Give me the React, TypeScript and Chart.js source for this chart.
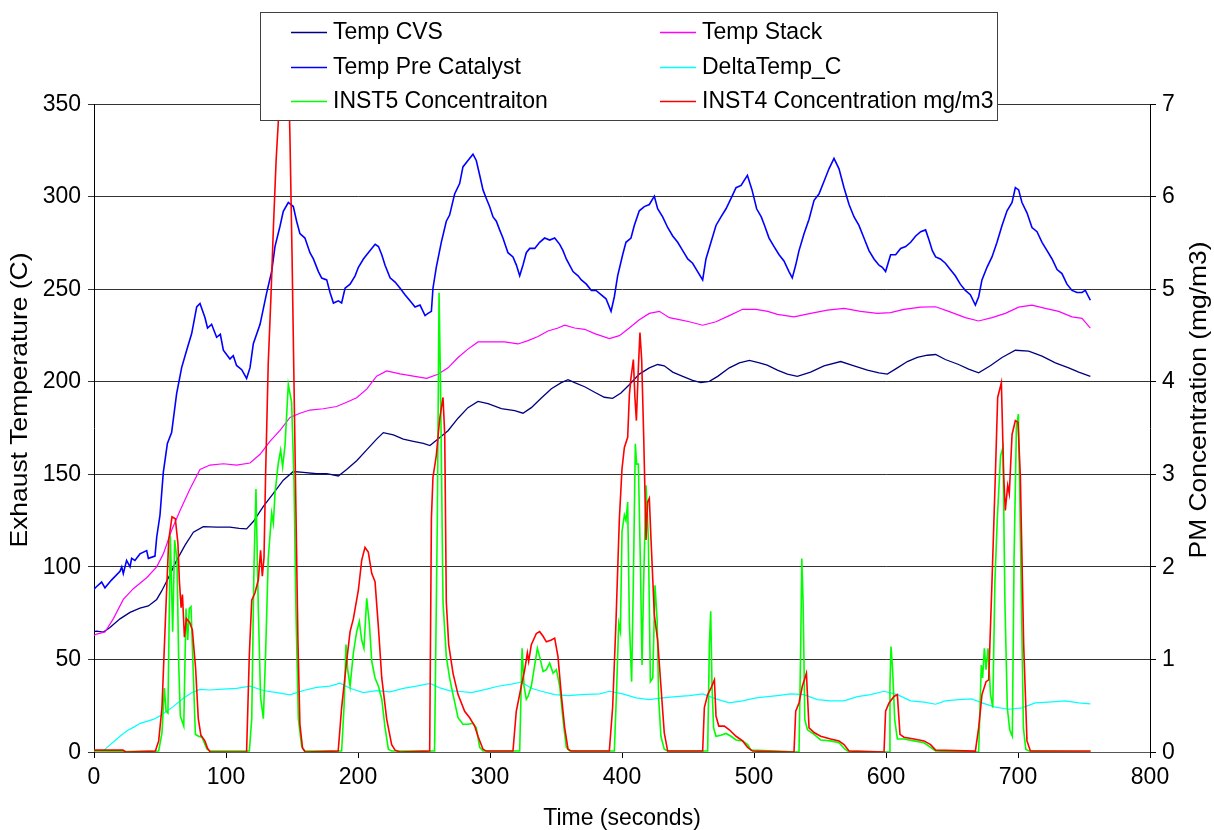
import React, { useEffect, useRef } from 'react';
import { Chart, registerables } from 'chart.js';

Chart.register(...registerables);

// ---- Axis ranges and titles ----
const xTitle = 'Time (seconds)';
const leftTitle = 'Exhaust Temperature (C)';
const rightTitle = 'PM Concentration (mg/m3)';
const xRange = [0, 800];
const xStep = 100;
const tempRange = [0, 350];
const tempStep = 50;
const pmRange = [0, 7];
const pmStep = 1;

// ---- Temp CVS (C) ----
const cvsT = [0, 2, 7.1, 12.1, 19.7, 27.3, 34.8, 41.2, 47.5, 51.3, 56.3, 62.6, 69, 75.3, 82.8, 92.9, 103, 110, 115.6, 120.7, 128.3, 135.9, 143.4, 151, 158.6, 168.7, 176.3, 185.1, 191.4, 199, 206.6, 214.1, 219.2, 226.8, 234.3, 241.9, 249.5, 254.5, 260.6, 268.2, 275.8, 283.3, 290.9, 298.5, 308.6, 318.7, 325, 331.3, 338.9, 346.5, 354, 359.1, 364.1, 371.7, 379.3, 386.6, 392.9, 399.2, 405.5, 413.1, 420.7, 427, 432, 438.4, 446, 453.5, 459.8, 466.2, 472.5, 481.3, 488.9, 496.5, 504.1, 510, 517.7, 525.3, 532.8, 542.9, 553, 565.7, 575.8, 585.9, 594.7, 601, 608.6, 616.2, 623.7, 631.3, 637.6, 644.9, 655, 662.6, 670.2, 679, 687.9, 698, 708.1, 718.2, 728.3, 738.4, 746, 754.8];
const cvsV = [65, 65.3, 64.8, 67.2, 71.9, 75.4, 77.7, 78.9, 82.4, 87, 94, 103.5, 111.7, 118.7, 121.7, 121.5, 121.5, 120.8, 120.5, 124.5, 132.7, 139.7, 146.8, 151.5, 151, 150.3, 150.3, 149.1, 152.6, 157.3, 163.2, 169, 172.5, 171.3, 169, 167.8, 166.7, 165.5, 169, 173.5, 180.3, 186, 189.4, 188.2, 185.5, 184.4, 183, 186, 191.2, 196.2, 199.5, 201.1, 199.5, 197.3, 194.3, 191.6, 191, 193.9, 198.4, 204.1, 207.5, 209.3, 208.6, 205.2, 202.9, 200.7, 199.5, 200.2, 202.9, 207.5, 210.2, 211.5, 210.2, 209, 206.3, 204.1, 202.9, 205.2, 208.6, 210.9, 208.6, 206.3, 204.8, 204.1, 207.5, 210.9, 213.1, 214.3, 214.7, 212, 209.3, 206.8, 204.8, 208.6, 213.1, 217, 216.5, 213.8, 210.2, 207.5, 205.2, 202.9];

// ---- Temp Stack (C) ----
const stackT = [0, 2, 8.3, 14.6, 22.2, 29.8, 39.9, 47.5, 52.5, 58.8, 65.2, 72.7, 80.3, 87.9, 98, 108, 118.2, 125.8, 133.3, 140.9, 148.5, 156, 163.6, 173.7, 183.8, 191.4, 199, 206.6, 214.1, 221.7, 231.8, 241.9, 252, 260.6, 268.2, 275.8, 283.3, 290.9, 301, 311.1, 321.2, 328.8, 336.4, 343.9, 351.5, 356.6, 364.1, 371.7, 379.3, 390.4, 398, 405.5, 413.1, 420.7, 428.3, 435.9, 443.4, 451, 461.1, 471.2, 481.3, 491.4, 501.5, 510.4, 517.7, 530.3, 542.9, 555.6, 568.2, 580.8, 593.4, 603.5, 613.6, 626.3, 637.6, 647.5, 660.1, 670.2, 680.3, 690.4, 700.5, 710.6, 720.7, 730.8, 740.9, 748.5, 754.8];
const stackV = [63, 63.7, 64.8, 71.9, 82.4, 88.2, 94.1, 100, 107, 119.8, 130.4, 142, 152.6, 155, 155.7, 155, 156.1, 160.8, 167.8, 173.7, 180.7, 183, 184.7, 185.4, 186.6, 188.9, 191.3, 196, 203, 205.8, 204.2, 203, 201.8, 204, 207.5, 213.1, 217.6, 221.5, 221.5, 221.5, 220.4, 222.2, 224.4, 227.4, 229, 230.5, 229, 228.3, 226, 223.3, 224.9, 229, 233.5, 236.9, 238, 234.6, 233.5, 232.4, 230.5, 232.4, 235.7, 239.1, 239.1, 238, 236.4, 235, 236.9, 238.7, 239.6, 238, 236.9, 237.3, 239.1, 240.3, 240.5, 238, 234.6, 232.8, 234.6, 236.9, 240.3, 241.4, 239.6, 238, 235, 234.2, 229];

// ---- Temp Pre Catalyst (C) ----
const preT = [0, 2, 5.8, 8.3, 13.4, 19.7, 21, 22.2, 24.7, 27.3, 28.5, 31, 34.8, 39.9, 41.2, 46.2, 47.5, 50, 52.5, 55.6, 58.8, 62.6, 66.4, 70.2, 74, 77.8, 80.3, 84.1, 86, 89.1, 92.9, 95.7, 98, 103, 105.5, 108, 111.9, 115.6, 118.2, 120.7, 125.8, 130.8, 134.6, 137.1, 140.9, 143.4, 147.2, 151, 153.5, 156, 159.8, 163.6, 166.2, 170, 172.5, 176.3, 178.8, 181.4, 185.1, 187.6, 190.2, 194, 197.8, 200.3, 204.1, 206.6, 210.4, 213, 215.5, 218, 220.5, 224.3, 228.1, 231.9, 235.6, 239.4, 243.2, 247, 250.8, 253, 255.6, 256.8, 259.3, 263.1, 266.9, 269.4, 273.2, 277, 279.5, 283.3, 287.1, 289.6, 292.2, 294.7, 297.2, 299.7, 302.3, 304.8, 307.3, 309.8, 313.6, 317.4, 320, 322.5, 325, 327.5, 330.1, 333.9, 337.6, 341.4, 345.2, 349, 352.8, 355.3, 357.8, 360.4, 362.9, 366.7, 369.2, 373, 376.8, 380.3, 384.1, 387.9, 391.7, 394.2, 396.7, 400.5, 403, 406.8, 409.3, 413.1, 416.9, 420.7, 424.5, 427, 430.8, 434.6, 438.4, 442.2, 446, 449.8, 453.5, 457.3, 461.1, 463.6, 467.4, 471.2, 475, 478.8, 482.6, 486.4, 490.2, 495, 498.5, 502, 505.5, 508, 511.4, 515.2, 519, 522.7, 526.5, 529, 531.6, 534.1, 537.9, 541.7, 545.5, 549.2, 553, 556.8, 560.6, 564.4, 568.2, 572, 575.8, 579.5, 583.3, 587.1, 590.9, 594.7, 597.2, 599.7, 603.5, 607.3, 611.1, 614.9, 618.7, 622.5, 626.3, 630, 632.6, 635.1, 637.6, 641.2, 645, 648.7, 652.5, 656.3, 660.1, 663.9, 667.7, 670.2, 672.7, 676.5, 680.3, 684.1, 687.9, 691.7, 695.5, 698, 700.5, 703, 706.8, 710.6, 714.4, 718.2, 722, 725.8, 729.6, 733.3, 737.1, 740.9, 744.7, 748.5, 751, 754.8];
const preV = [88, 89.4, 91.8, 88.7, 93, 97.6, 100, 96.4, 103.5, 100, 104.6, 103.5, 107, 108.8, 104.6, 105.8, 116, 128, 151, 166.7, 172.5, 193.6, 207.6, 217, 226, 240.4, 242.3, 234.5, 229, 231, 224, 225.6, 217, 212.3, 214, 208.8, 206.5, 201.8, 207.6, 220.5, 231, 248, 259.5, 273, 284, 292, 296.8, 294.6, 286.7, 280, 277.6, 269.7, 266.3, 259.5, 256, 255, 248.2, 242.5, 243.7, 242.5, 250.5, 252.7, 257.2, 261.8, 266.3, 268.6, 272, 274.2, 273, 268.6, 262.9, 256.1, 253.8, 250.5, 247, 243.7, 240.3, 241.4, 235.7, 236.9, 238, 250.5, 261.8, 275.3, 286.7, 290, 301.4, 307, 316, 319.5, 322.9, 319.5, 311.5, 303.6, 299, 294.6, 289, 286.7, 282, 277.6, 269.7, 267.4, 263, 257.2, 263, 269.7, 272, 272, 275.3, 277.6, 276.5, 277.6, 274.2, 270.8, 266.3, 262.9, 259.5, 257.2, 255, 252.7, 249.3, 249.3, 247, 244.8, 238, 245.9, 257.2, 268.6, 275.3, 277.6, 284.4, 292.3, 294.6, 295.7, 300.2, 293.4, 289, 283.3, 278.7, 275.3, 270.8, 266.3, 264, 259.5, 255, 266.3, 275.3, 284.4, 289, 293.4, 299, 304.8, 306, 311.5, 303.6, 293.4, 289, 284.4, 277.6, 273, 268.6, 265.2, 259.5, 256.1, 263, 270.8, 279.9, 287.8, 298, 301.4, 308.1, 315, 320.6, 315, 304.8, 295.7, 289, 284.4, 277.6, 270.8, 266.3, 262.9, 261.8, 259.5, 268.6, 268.6, 272, 273, 275.3, 278.7, 281, 282, 276.5, 270.8, 267.4, 266.3, 264, 260.6, 257.2, 252.7, 249.3, 247, 241.4, 245.9, 255, 261.8, 267.4, 275.3, 284.4, 292.3, 296.8, 304.8, 303.6, 296.8, 291.2, 283.3, 281, 275.3, 270.8, 266.3, 260.6, 258.4, 252.7, 249.3, 248.2, 248.2, 249.3, 244];

// ---- DeltaTemp_C (C) ----
const deltaT = [0, 5.8, 10, 14, 19.7, 25, 29.8, 35, 44.9, 50, 55, 60, 67.7, 74, 80.3, 87.9, 98, 108, 118.2, 128.3, 138.4, 148.5, 158.6, 168.7, 178.8, 186.4, 194, 204, 214.1, 224.2, 234.3, 244.4, 254.5, 262.1, 269.7, 275.8, 285.9, 296, 306.1, 316.2, 323.7, 331.3, 338.9, 349, 359.1, 369.2, 383.1, 390.4, 400.5, 410.6, 420.7, 430.8, 440.9, 451, 461.1, 471.2, 481.3, 491.4, 501.5, 510.4, 517.7, 527.8, 537.9, 548, 558.1, 568.2, 578.3, 588.4, 598.5, 608.6, 618.7, 628.8, 637.6, 644.9, 655, 665.1, 672.7, 682.8, 692.9, 703, 713.1, 723.2, 735.9, 746, 754.8];
const deltaV = [0, 0, 2.5, 5, 8.5, 11.5, 13.3, 15.5, 17.6, 19.5, 22, 24.5, 29, 32, 33.8, 33.5, 34, 34.4, 35.6, 33.2, 32.1, 30.9, 33.2, 34.9, 35.6, 37.2, 34.4, 32.1, 33.2, 32.5, 34.4, 35.6, 37, 34.6, 33, 32.8, 32.1, 33.7, 35.5, 36.7, 37.8, 34.4, 32.8, 31, 30.5, 31, 31.4, 32.8, 31.4, 29.2, 28.3, 29.2, 29.9, 30.5, 31.4, 28.7, 26.5, 27.6, 29.2, 29.9, 30.5, 31.4, 31, 28.3, 27.6, 27.6, 29.9, 31, 32.8, 31, 27.6, 26.9, 25.8, 27.6, 28.3, 28.7, 26.5, 24.2, 23.1, 23.8, 26.5, 26.9, 27.6, 26.5, 26];

// ---- INST5 Concentraiton (mg/m3) ----
const inst5T = [0, 49, 51.5, 53.3, 54.6, 56, 57.8, 59.6, 61.1, 62.9, 64.2, 65.4, 68, 69.7, 71, 72.2, 73.5, 75, 76.8, 79.3, 81.8, 85.6, 88.1, 117.7, 119.5, 121.2, 122.7, 124.5, 126.2, 128.3, 130, 132, 134.6, 135.9, 137.1, 139.6, 141.4, 142.9, 144.7, 147.2, 149.7, 151.5, 153, 154.8, 157.3, 159.8, 187.6, 189.4, 190.9, 192.2, 194, 196.5, 199, 201, 202.8, 204.5, 206.6, 208.6, 210.4, 212.9, 215.5, 218, 220.5, 223, 225.5, 258, 260.1, 261.4, 262.6, 264.4, 266.9, 269.4, 272, 275.8, 279.5, 283.3, 287.1, 289.6, 292.2, 294.7, 322.5, 324.3, 325.8, 327.5, 328.8, 331.3, 333.9, 335.9, 337.6, 340.2, 342.7, 345.2, 347.8, 350.3, 352.8, 355.3, 357.8, 360.4, 394.2, 396, 397.5, 398.8, 400, 401.8, 403, 404.3, 405.6, 407.3, 408.6, 410.1, 411.1, 412.4, 413.9, 415.2, 416.4, 418.2, 420, 421.5, 423.3, 425, 426.6, 427.8, 429.5, 432, 434.6, 464.9, 466.2, 467.2, 468.2, 469.4, 471.2, 475, 478.8, 482.6, 486.4, 491.4, 495.2, 497.7, 534.1, 535.4, 536.2, 537.2, 538.5, 540.5, 545.5, 550.5, 558.1, 564.4, 568.2, 570.7, 602.3, 603, 603.8, 605, 606.6, 608.6, 613.6, 621.2, 628.8, 633.8, 637.6, 670.2, 672.2, 673.2, 674.5, 675.8, 677.3, 679.2, 680.9, 682.5, 684.3, 686.8, 688.6, 690.1, 691.9, 693.7, 695.7, 697, 698.8, 700.3, 701.6, 702.9, 704.1, 705.9, 708.4, 755];
const inst5V = [0, 0.01, 0.21, 0.69, 0.44, 0.42, 2.34, 1.3, 2.29, 2.07, 0.94, 0.39, 0.28, 1.55, 1.21, 1.55, 1.57, 0.94, 0.19, 0.17, 0.16, 0.03, 0.01, 0.01, 0.36, 2.0, 2.84, 1.53, 0.59, 0.36, 1.06, 2.09, 2.58, 2.47, 2.79, 3.12, 3.26, 3.08, 3.31, 3.97, 3.78, 2.94, 1.53, 0.36, 0.06, 0.01, 0.01, 0.48, 1.16, 0.89, 0.71, 1.07, 1.3, 1.41, 1.21, 1.12, 1.66, 1.39, 0.98, 0.8, 0.71, 0.57, 0.26, 0.03, 0.01, 0.01, 2.52, 4.96, 3.88, 1.62, 1.03, 0.8, 0.62, 0.37, 0.3, 0.3, 0.31, 0.26, 0.05, 0.01, 0.01, 1.12, 0.71, 0.57, 0.6, 0.71, 0.94, 1.12, 1.03, 0.87, 0.89, 0.96, 0.85, 0.89, 0.71, 0.35, 0.05, 0.01, 0.01, 0.71, 1.39, 1.3, 2.38, 2.56, 2.5, 2.7, 1.39, 0.76, 1.84, 3.33, 3.11, 3.11, 2.07, 0.94, 1.84, 2.88, 2.29, 0.76, 0.8, 1.8, 1.43, 0.57, 0.17, 0.03, 0.01, 0.01, 1.16, 1.52, 0.71, 0.26, 0.17, 0.18, 0.2, 0.17, 0.13, 0.12, 0.08, 0.02, 0, 1.16, 2.09, 1.62, 0.35, 0.24, 0.19, 0.13, 0.12, 0.1, 0.04, 0.01, 0, 0.71, 1.14, 0.89, 0.35, 0.14, 0.14, 0.12, 0.1, 0.05, 0.01, 0, 0.94, 0.8, 1.12, 0.89, 1.12, 0.62, 0.48, 1.84, 2.52, 3.2, 3.29, 1.62, 0.48, 0.24, 0.17, 2.07, 3.52, 3.65, 2.52, 1.34, 0.26, 0.03, 0.01, 0];

// ---- INST4 Concentration mg/m3 ----
const inst4T = [0, 22, 24, 46.5, 49, 51.5, 54, 56.6, 59.1, 61.6, 63.6, 64.7, 66, 67, 68.5, 70, 72.5, 74.5, 77, 79, 81, 84, 86, 88, 115.6, 117.7, 119.5, 122, 124.5, 126.2, 127.5, 128.8, 130, 132, 134, 136, 138, 140, 142, 144, 145.5, 147, 148.5, 150, 151.5, 153, 154.5, 156, 158, 160, 185, 187.6, 191.4, 194, 196.5, 200.3, 202.8, 205.3, 207.8, 210.4, 212.9, 215.5, 218, 221.8, 225.5, 228.1, 231.9, 254.3, 255.6, 256.8, 259.3, 261.9, 264.4, 265.7, 266.9, 268.7, 272, 275.8, 280.8, 284.6, 288.4, 290.9, 294.7, 297.2, 317.4, 319.9, 323.7, 326.3, 328.3, 329.3, 331.3, 335.1, 337.6, 340.2, 342.7, 346.5, 349, 351.5, 354, 356.6, 359.1, 361.6, 390.4, 392.9, 395.4, 398, 400, 401.8, 404.3, 405.6, 406.8, 408.6, 409.8, 410.9, 412.4, 413.6, 414.9, 416.4, 418.2, 419.4, 420.7, 422, 424.5, 427, 429.5, 432, 434.6, 461.1, 462.4, 464.9, 467.4, 470, 471.2, 473.3, 477.5, 481.3, 486.4, 491.4, 495.2, 499, 530.3, 531.6, 534.1, 536.6, 539.7, 541.7, 545.5, 550.5, 558.1, 564.4, 568.2, 572, 598.5, 599.7, 602.3, 606, 608.6, 610.6, 613.6, 621.2, 628.8, 633.8, 637.6, 667.7, 670.2, 672.7, 675.8, 677.8, 680.3, 682.8, 684.6, 687.4, 689.2, 690.4, 692.2, 693.4, 695.5, 698, 700, 701.8, 704.3, 706.8, 709.4, 755];
const inst4V = [0.02, 0.02, 0, 0.01, 0.12, 0.48, 1.39, 2.29, 2.54, 2.52, 2.25, 1.84, 1.56, 1.7, 1.24, 1.44, 1.4, 1.32, 0.9, 0.36, 0.18, 0.12, 0.04, 0, 0, 1.06, 1.64, 1.72, 1.86, 2.18, 1.9, 2.1, 3.0, 4.2, 4.9, 5.7, 6.4, 6.9, 7.4, 8.4, 8.8, 7.6, 6.6, 5.4, 4.0, 2.6, 1.2, 0.3, 0.04, 0, 0.01, 0.48, 0.98, 1.3, 1.44, 1.75, 2.07, 2.21, 2.16, 1.93, 1.84, 1.34, 0.8, 0.35, 0.08, 0.02, 0, 0.01, 2.52, 2.97, 3.2, 3.6, 3.83, 3.43, 1.62, 1.16, 0.85, 0.62, 0.44, 0.37, 0.28, 0.17, 0.03, 0.01, 0.01, 0.44, 0.71, 0.89, 1.07, 0.98, 1.16, 1.28, 1.3, 1.25, 1.19, 1.21, 1.23, 1.03, 0.62, 0.26, 0.03, 0.01, 0.01, 0.48, 1.39, 2.52, 3.06, 3.29, 3.4, 3.86, 4.04, 4.24, 3.83, 3.58, 4.15, 4.53, 4.24, 3.43, 2.29, 2.7, 2.74, 2.29, 1.48, 1.21, 0.71, 0.21, 0.01, 0.01, 0.48, 0.62, 0.69, 0.78, 0.39, 0.28, 0.28, 0.24, 0.17, 0.12, 0.05, 0.01, 0, 0.44, 0.53, 0.71, 0.85, 0.26, 0.21, 0.17, 0.14, 0.12, 0.08, 0.01, 0, 0.44, 0.53, 0.6, 0.62, 0.19, 0.16, 0.14, 0.12, 0.08, 0.02, 0.01, 0.26, 0.62, 0.76, 0.78, 1.84, 2.97, 3.83, 3.99, 2.97, 2.61, 2.88, 2.79, 3.43, 3.58, 3.56, 2.97, 1.16, 0.12, 0.01, 0.01];

// ---- Look ----
const FONT_PX = 23;
const TEXT_STRETCH = 1.06; // text is drawn slightly taller than its nominal width
const TITLE_PX = 24;
const TITLE_STRETCH = 1.1;
const FONT_FAMILY = 'Arial, "Liberation Sans", sans-serif';
const GRID_COLOR = '#333333';

const toPoints = (t: number[], v: number[]) => t.map((x, i) => ({ x, y: v[i] }));

function drawText(
  ctx: CanvasRenderingContext2D,
  text: string,
  x: number,
  y: number,
  align: CanvasTextAlign,
  vertical = false,
  size = FONT_PX,
  stretch = TEXT_STRETCH
) {
  ctx.save();
  ctx.translate(x, y);
  if (vertical) {
    ctx.rotate(-Math.PI / 2);
    ctx.scale(stretch, 1);
  } else {
    ctx.scale(1, stretch);
  }
  ctx.font = `${size}px ${FONT_FAMILY}`;
  ctx.textAlign = align;
  ctx.textBaseline = 'middle';
  ctx.fillStyle = '#000';
  ctx.fillText(text, 0, 0);
  ctx.restore();
}

// Tick labels, axis titles and the two-column legend box
const textAndLegend = {
  id: 'textAndLegend',
  afterDraw(chart: any) {
    const ctx: CanvasRenderingContext2D = chart.ctx;
    const { chartArea, scales } = chart;
    const xs = scales.x;
    const yl = scales.y;
    const yr = scales.y1;

    yl.ticks.forEach((tk: any, i: number) => {
      drawText(ctx, String(tk.value), chartArea.left - 13, yl.getPixelForTick(i), 'right');
    });
    yr.ticks.forEach((tk: any, i: number) => {
      drawText(ctx, String(tk.value), chartArea.right + 12, yr.getPixelForTick(i), 'left');
    });
    xs.ticks.forEach((tk: any, i: number) => {
      drawText(ctx, String(tk.value), xs.getPixelForTick(i), chartArea.bottom + 25, 'center');
    });

    drawText(ctx, xTitle, (chartArea.left + chartArea.right) / 2, 818, 'center');
    drawText(ctx, leftTitle, 20, 400, 'center', true, TITLE_PX, TITLE_STRETCH);
    drawText(ctx, rightTitle, 1199, 400, 'center', true, TITLE_PX, TITLE_STRETCH);

    // legend
    const box = { l: 260, t: 12, r: 997, b: 120 };
    ctx.save();
    ctx.fillStyle = '#ffffff';
    ctx.fillRect(box.l, box.t, box.r - box.l, box.b - box.t);
    ctx.strokeStyle = '#404040';
    ctx.lineWidth = 1;
    ctx.strokeRect(box.l + 0.5, box.t + 0.5, box.r - box.l, box.b - box.t);
    ctx.restore();

    const rows = [32, 67, 101];
    const lineX = [291, 660];
    const textX = [333, 702];
    chart.data.datasets.forEach((ds: any, i: number) => {
      const col = i % 2;
      const row = Math.floor(i / 2);
      const y = rows[row];
      ctx.save();
      ctx.strokeStyle = ds.borderColor;
      ctx.lineWidth = 1.5;
      ctx.beginPath();
      ctx.moveTo(lineX[col], y + 0.5);
      ctx.lineTo(lineX[col] + 36, y + 0.5);
      ctx.stroke();
      ctx.restore();
      drawText(ctx, ds.label, textX[col], y, 'left');
    });
  },
};

export default function App() {
  const canvasRef = useRef<HTMLCanvasElement | null>(null);

  useEffect(() => {
    if (!canvasRef.current) return;
    const chart = new Chart(canvasRef.current, {
      type: 'line',
      data: {
        datasets: [
          { label: 'Temp CVS', data: toPoints(cvsT, cvsV), borderColor: '#000080', borderWidth: 1.3, yAxisID: 'y', order: 5 },
          { label: 'Temp Stack', data: toPoints(stackT, stackV), borderColor: '#FF00FF', borderWidth: 1.2, yAxisID: 'y', order: 4 },
          { label: 'Temp Pre Catalyst', data: toPoints(preT, preV), borderColor: '#0000FF', borderWidth: 1.6, yAxisID: 'y', order: 3 },
          { label: 'DeltaTemp_C', data: toPoints(deltaT, deltaV), borderColor: '#00FFFF', borderWidth: 1.2, yAxisID: 'y', order: 2 },
          { label: 'INST5 Concentraiton', data: toPoints(inst5T, inst5V), borderColor: '#00FF00', borderWidth: 1.6, yAxisID: 'y1', order: 1 },
          { label: 'INST4 Concentration mg/m3', data: toPoints(inst4T, inst4V), borderColor: '#FF0000', borderWidth: 1.6, yAxisID: 'y1', order: 0 },
        ],
      },
      options: {
        responsive: false,
        animation: false,
        devicePixelRatio: 1,
        layout: { padding: { top: 104, left: 0, right: 0, bottom: 0 } },
        elements: { point: { radius: 0 }, line: { tension: 0 } },
        plugins: { legend: { display: false }, tooltip: { enabled: false }, title: { display: false } },
        scales: {
          x: {
            type: 'linear',
            min: xRange[0],
            max: xRange[1],
            ticks: { stepSize: xStep, display: false },
            grid: { drawOnChartArea: false, drawTicks: true, tickLength: 6, color: '#000' },
            border: { display: true, color: '#555' },
            afterFit: (s: any) => { s.height = 78; },
          },
          y: {
            type: 'linear',
            position: 'left',
            min: tempRange[0],
            max: tempRange[1],
            ticks: { stepSize: tempStep, display: false },
            grid: { color: GRID_COLOR, tickLength: 6 },
            border: { display: true, color: '#000' },
            afterFit: (s: any) => { s.width = 94; },
          },
          y1: {
            type: 'linear',
            position: 'right',
            min: pmRange[0],
            max: pmRange[1],
            ticks: { stepSize: pmStep, display: false },
            grid: { drawOnChartArea: false, tickLength: 6, color: '#000' },
            border: { display: true, color: '#000' },
            afterFit: (s: any) => { s.width = 64; },
          },
        },
      },
      plugins: [textAndLegend],
    });
    return () => chart.destroy();
  }, []);

  return (
    <div style={{ position: 'absolute', left: 0, top: 0, width: 1214, height: 830, background: '#fff' }}>
      <canvas ref={canvasRef} width={1214} height={830} />
    </div>
  );
}
